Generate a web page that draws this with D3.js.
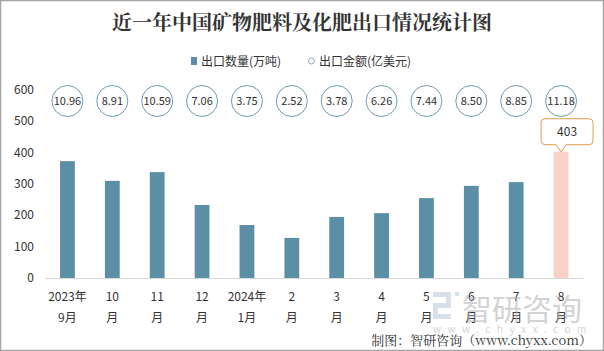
<!DOCTYPE html>
<meta charset="utf-8">
<script src="https://d3js.org/d3.v7.min.js"></script>
<style>
  body { margin: 0; background: #fff; }
  text { font-family: "Microsoft YaHei", "Noto Sans CJK SC", sans-serif; }
</style>
<div id="chart"></div>
<script>
// Data
var months = ["2023年\n9月", "10\n月", "11\n月", "12\n月", "2024年\n1月", "2\n月", "3\n月", "4\n月", "5\n月", "6\n月", "7\n月", "8\n月"];
var volume = [373, 310, 338, 233, 169, 128, 195, 207, 255, 294, 306, 403];
var amount = ["10.96", "8.91", "10.59", "7.06", "3.75", "2.52", "3.78", "6.26", "7.44", "8.50", "8.85", "11.18"];
var yTicks = [0, 100, 200, 300, 400, 500, 600];

var W = 604, H = 351;
var svg = d3.select("#chart").append("svg")
    .attr("width", W).attr("height", H);

// outer frame
svg.append("rect")
    .attr("x", 0.5).attr("y", 0.5).attr("width", W - 1).attr("height", H - 1)
    .attr("fill", "#fff").attr("stroke", "#a6a6a6").attr("stroke-width", 1.5);

// title
svg.append("text")
    .attr("x", 302).attr("y", 30)
    .attr("text-anchor", "middle")
    .attr("font-size", 20).attr("font-weight", "bold")
    .style("font-family", "'Noto Serif CJK SC', 'Noto Sans CJK SC', serif")
    .attr("fill", "#333")
    .text("近一年中国矿物肥料及化肥出口情况统计图");

// legend
var lg = svg.append("g").attr("font-size", 12).attr("fill", "#333");
lg.append("rect").attr("x", 191).attr("y", 57).attr("width", 6).attr("height", 8).attr("fill", "#5b8fa6");
lg.append("text").attr("x", 201).attr("y", 65.5).text("出口数量(万吨)");
lg.append("circle").attr("cx", 311.5).attr("cy", 61).attr("r", 3).attr("fill", "none").attr("stroke", "#8aaec0");
lg.append("text").attr("x", 319).attr("y", 65.5).text("出口金额(亿美元)");

// scales
var x = d3.scaleBand().domain(months).range([45, 583.5]).paddingInner(0.67).paddingOuter(0.335);
var y = d3.scaleLinear().domain([0, 600]).range([278, 90]);

// y axis labels
svg.append("g").selectAll("text").data(yTicks).join("text")
    .attr("x", 34).attr("y", d => y(d) + 4)
    .attr("text-anchor", "end").attr("font-size", 12).attr("fill", "#333")
    .text(d => d);

// baseline
svg.append("line")
    .attr("x1", 45).attr("x2", 583.5).attr("y1", y(0) + 0.5).attr("y2", y(0) + 0.5)
    .attr("stroke", "#d9d9d9");

// bars
svg.append("g").selectAll("rect").data(volume).join("rect")
    .attr("x", (d, i) => x(months[i]))
    .attr("width", x.bandwidth())
    .attr("y", d => y(d))
    .attr("height", d => y(0) - y(d))
    .attr("fill", (d, i) => i === volume.length - 1 ? "#f8d1c8" : "#5b8fa6");

// amount circles
var cg = svg.append("g").selectAll("g").data(amount).join("g")
    .attr("transform", (d, i) => `translate(${x(months[i]) + x.bandwidth() / 2},101)`);
cg.append("circle").attr("r", 15.5).attr("fill", "#fff").attr("stroke", "#6f9bb0").attr("stroke-width", 1);
cg.append("text").attr("y", 4).attr("text-anchor", "middle").attr("font-size", 11).attr("fill", "#333")
    .text(d => d);

// x labels (two lines)
svg.append("g").selectAll("text").data(months).join("text")
    .attr("text-anchor", "middle").attr("font-size", 12).attr("fill", "#333")
    .attr("transform", d => `translate(${x(d) + x.bandwidth() / 2},0)`)
    .each(function (d) {
      var lines = d.split("\n");
      d3.select(this).selectAll("tspan").data(lines).join("tspan")
          .attr("x", 0).attr("y", (l, j) => 301 + j * 21).text(l => l);
    });

// callout on the last bar
var last = volume.length - 1;
var px = x(months[last]) + x.bandwidth() / 2, py = y(volume[last]);
var bx0 = px - 20, bx1 = px + 32, by0 = py - 33, by1 = py - 7, r = 4;
svg.append("path")
    .attr("d", `M${bx0 + r},${by0} H${bx1 - r} Q${bx1},${by0} ${bx1},${by0 + r} V${by1 - r} Q${bx1},${by1} ${bx1 - r},${by1}
      H${px + 5} L${px},${py} L${px - 5},${by1} H${bx0 + r} Q${bx0},${by1} ${bx0},${by1 - r} V${by0 + r} Q${bx0},${by0} ${bx0 + r},${by0} Z`)
    .attr("fill", "#fff").attr("stroke", "#e59b4f").attr("stroke-width", 1);
svg.append("text")
    .attr("x", (bx0 + bx1) / 2).attr("y", (by0 + by1) / 2 + 4)
    .attr("text-anchor", "middle").attr("font-size", 12).attr("fill", "#333")
    .text(volume[last]);

// watermark
var wm = svg.append("g").attr("opacity", 0.55);
wm.append("rect").attr("x", 433).attr("y", 292).attr("width", 18).attr("height", 5).attr("fill", "#b8c8dc");
wm.append("rect").attr("x", 446).attr("y", 292).attr("width", 5).attr("height", 16).attr("fill", "#b8c8dc");
wm.append("rect").attr("x", 433).attr("y", 303).attr("width", 18).attr("height", 5).attr("fill", "#b8c8dc");
wm.append("rect").attr("x", 433).attr("y", 303).attr("width", 5).attr("height", 16).attr("fill", "#b8c8dc");
wm.append("rect").attr("x", 433).attr("y", 314).attr("width", 18).attr("height", 5).attr("fill", "#b8c8dc");
wm.append("rect").attr("x", 455).attr("y", 292).attr("width", 4).attr("height", 4).attr("fill", "#b8c8dc");
wm.append("text").attr("x", 462).attr("y", 320).attr("font-size", 30).attr("fill", "#b0b0b0")
    .text("智研咨询");
wm.append("text").attr("x", 433).attr("y", 333).attr("font-size", 10).attr("fill", "#b0b0b0")
    .attr("letter-spacing", 6.5).text("www.chyxx.com");

// source
svg.append("text")
    .attr("x", 592).attr("y", 345).attr("text-anchor", "end")
    .attr("font-size", 13).attr("fill", "#333")
    .style("font-family", "'Noto Serif CJK SC', 'Noto Sans CJK SC', serif")
    .text("制图：智研咨询（www.chyxx.com）");
</script>
